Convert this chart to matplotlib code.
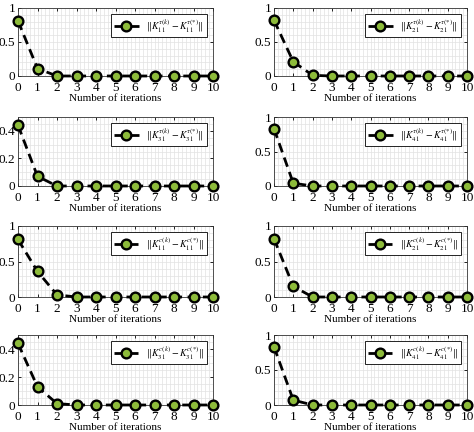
import numpy as np
import matplotlib
matplotlib.use('Agg')
import matplotlib.pyplot as plt
from matplotlib.ticker import MultipleLocator

plt.rcParams['font.family'] = ['Liberation Serif', 'DejaVu Serif']
plt.rcParams['mathtext.fontset'] = 'stix'

iterations = np.arange(0, 11)

# error norms per panel
err_11_a = [0.81, 0.11, 0, 0, 0, 0, 0, 0, 0, 0, 0]
err_21_a = [0.82, 0.21, 0.01, 0, 0, 0, 0, 0, 0, 0, 0]
err_31_a = [0.44, 0.07, 0, 0, 0, 0, 0, 0, 0, 0, 0]
err_41_a = [0.83, 0.04, 0, 0, 0, 0, 0, 0, 0, 0, 0]
err_11_b = [0.81, 0.36, 0.03, 0, 0, 0, 0, 0, 0, 0, 0]
err_21_b = [0.82, 0.15, 0, 0, 0, 0, 0, 0, 0, 0, 0]
err_31_b = [0.44, 0.13, 0.01, 0, 0, 0, 0, 0, 0, 0, 0]
err_41_b = [0.83, 0.07, 0, 0, 0, 0, 0, 0, 0, 0, 0]

labels = [
    r'$\|K_{11}^{\tau(k)}-K_{11}^{\tau(*)}\|$',
    r'$\|K_{21}^{\tau(k)}-K_{21}^{\tau(*)}\|$',
    r'$\|K_{31}^{\tau(k)}-K_{31}^{\tau(*)}\|$',
    r'$\|K_{41}^{\tau(k)}-K_{41}^{\tau(*)}\|$',
    r'$\|K_{11}^{c(k)}-K_{11}^{c(*)}\|$',
    r'$\|K_{21}^{c(k)}-K_{21}^{c(*)}\|$',
    r'$\|K_{31}^{c(k)}-K_{31}^{c(*)}\|$',
    r'$\|K_{41}^{c(k)}-K_{41}^{c(*)}\|$',
]
series = [err_11_a, err_21_a, err_31_a, err_41_a,
          err_11_b, err_21_b, err_31_b, err_41_b]
y_tops = [1, 1, 0.5, 1, 1, 1, 0.5, 1]
y_ticks = [[0, 0.5, 1], [0, 0.5, 1], [0, 0.2, 0.4], [0, 0.5, 1],
           [0, 0.5, 1], [0, 0.5, 1], [0, 0.2, 0.4], [0, 0.5, 1]]

W, H = 474, 432
fig = plt.figure(figsize=(W / 100, H / 100), dpi=100)

col_x = [(18, 195), (274, 193)]
row_y = [(8, 76), (117, 186), (226, 297), (335, 405)]

for i in range(8):
    r, c = i // 2, i % 2
    x0, w = col_x[c]
    top, bot = row_y[r]
    ax = fig.add_axes([x0 / W, 1 - bot / H, w / W, (bot - top) / H])
    ax.plot(iterations, series[i], linestyle=(0, (3.5, 2)), color='black',
            linewidth=2, marker='o', markersize=7,
            markerfacecolor='#8dbb3a', markeredgecolor='black',
            markeredgewidth=1.7, label=labels[i], zorder=3, clip_on=False)
    ax.set_xlim(0, 10)
    ax.set_ylim(0, y_tops[i])
    ax.set_xticks(range(11))
    ax.set_yticks(y_ticks[i])
    ax.set_yticklabels([('%g' % t) for t in y_ticks[i]])
    ax.xaxis.set_minor_locator(MultipleLocator(0.2))
    ax.yaxis.set_minor_locator(MultipleLocator(y_tops[i] / 10))
    ax.grid(True, which='both', color='#e2e2e2', linestyle='-', linewidth=0.5)
    ax.set_axisbelow(True)
    ax.tick_params(which='major', direction='in', length=2.5, width=0.6,
                   top=True, right=True, labelsize=9.5, pad=2)
    ax.tick_params(axis='x', which='major', pad=4)
    ax.tick_params(which='minor', length=0)
    for s in ax.spines.values():
        s.set_linewidth(0.6)
        s.set_color('#333333')
    ax.set_xlabel('Number of iterations', fontsize=8, labelpad=0)
    leg = ax.legend(loc='upper right', fontsize=7, frameon=True, fancybox=False,
                    edgecolor='black', handlelength=2.5, borderpad=0.3,
                    borderaxespad=0.6, framealpha=1)
    leg.get_frame().set_linewidth(0.6)

fig.savefig('out.png', dpi=100)
